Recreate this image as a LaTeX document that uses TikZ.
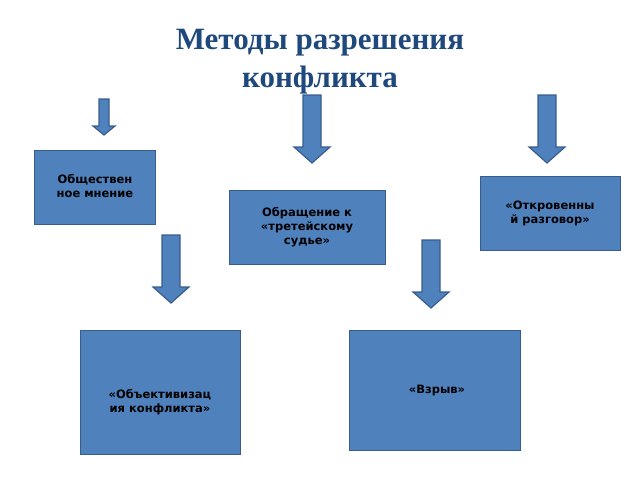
\documentclass[tikz,border=0pt]{standalone}
\usepackage{fontspec}
\setmainfont{DejaVu Sans}
\newfontfamily\titlefont{Liberation Serif}
\definecolor{boxblue}{RGB}{79,129,189}
\definecolor{boxline}{RGB}{56,93,138}
\definecolor{titleblue}{RGB}{31,73,125}
\newcommand\blkarrow[5]{% cx, top, bottom, shaft half, head half
  \fill[boxblue,draw=boxline,line width=1.2pt]
    (#1-#4,#2) -- (#1+#4,#2) -- (#1+#4,#3-#5+2) -- (#1+#5,#3-#5+2)
    -- (#1,#3) -- (#1-#5,#3-#5+2) -- (#1-#4,#3-#5+2) -- cycle;}
\begin{document}
\begin{tikzpicture}[x=1pt,y=-1pt,
  card/.style={draw=boxline,fill=boxblue,line width=1.2pt,anchor=north west,inner sep=0pt},
  label/.style={font=\bfseries\fontsize{11.5}{14}\selectfont,align=center}]
\useasboundingbox (0,0) rectangle (640,480);

\node[font=\titlefont\bfseries\fontsize{31}{38}\selectfont,text=titleblue,align=center] (title) at (320,62) {Методы разрешения\\конфликта};

\node[card,minimum width=121,minimum height=74] (opinion) at (34,150) {};
\node[card,minimum width=156,minimum height=74] (judge) at (229,190) {};
\node[card,minimum width=140,minimum height=74] (talk) at (480,176) {};
\node[card,minimum width=160,minimum height=124] (objective) at (80,330) {};
\node[card,minimum width=171,minimum height=120] (blast) at (349,330) {};

\node[label] at (95,186) {Обществен\\ное мнение};
\node[label] at (307,227) {Обращение к\\«третейскому\\судье»};
\node[label] at (550,213) {«Откровенны\\й разговор»};
\node[label] at (160,402) {«Объективизац\\ия конфликта»};
\node[label] at (437,390) {«Взрыв»};

\blkarrow{104}{99}{135}{5}{11}
\blkarrow{312}{95}{163}{9}{18}
\blkarrow{547}{95}{163}{9}{18}
\blkarrow{171}{235}{303}{9}{18}
\blkarrow{431}{240}{308}{9}{18}
\end{tikzpicture}
\end{document}
